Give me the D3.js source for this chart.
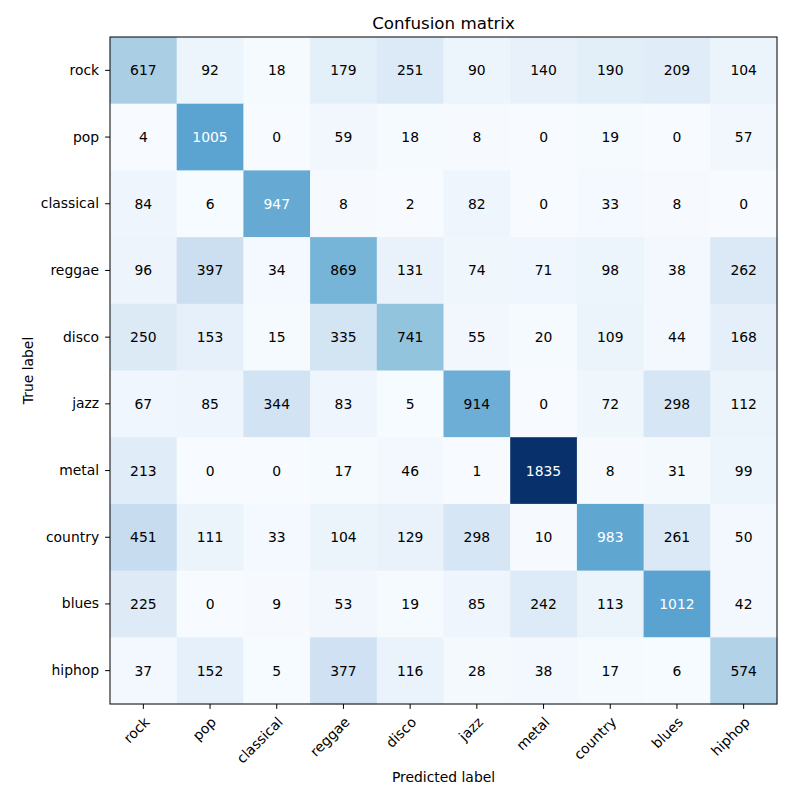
<!DOCTYPE html>
<html><head><meta charset="utf-8">
<script src="https://cdn.jsdelivr.net/npm/d3@7"></script>
<style>body{margin:0;background:#fff}svg{font-family:"DejaVu Sans",sans-serif}</style>
</head><body>
<script>
const classes = ["rock","pop","classical","reggae","disco","jazz","metal","country","blues","hiphop"];
const matrix = [
  [617, 92, 18, 179, 251, 90, 140, 190, 209, 104],
  [4, 1005, 0, 59, 18, 8, 0, 19, 0, 57],
  [84, 6, 947, 8, 2, 82, 0, 33, 8, 0],
  [96, 397, 34, 869, 131, 74, 71, 98, 38, 262],
  [250, 153, 15, 335, 741, 55, 20, 109, 44, 168],
  [67, 85, 344, 83, 5, 914, 0, 72, 298, 112],
  [213, 0, 0, 17, 46, 1, 1835, 8, 31, 99],
  [451, 111, 33, 104, 129, 298, 10, 983, 261, 50],
  [225, 0, 9, 53, 19, 85, 242, 113, 1012, 42],
  [37, 152, 5, 377, 116, 28, 38, 17, 6, 574]
];
const blues = ["#f7fbff","#deebf7","#c6dbef","#9ecae1","#6baed6","#4292c6","#2171b5","#08519c","#08306b"];

const W = 800, H = 800;
const mLeft = 110, mTop = 37, size = 667;
const svg = d3.select("body").append("svg").attr("width", W).attr("height", H);

const x = d3.scaleBand().domain(classes).range([mLeft, mLeft + size]);
const y = d3.scaleBand().domain(classes).range([mTop, mTop + size]);
const vmax = d3.max(matrix.flat()), vmin = d3.min(matrix.flat());
const color = d3.scaleLinear()
  .domain(blues.map((_, i) => vmin + (vmax - vmin) * i / (blues.length - 1)))
  .range(blues).interpolate(d3.interpolateRgb);
const thresh = vmax / 2;

const cells = [];
matrix.forEach((row, i) => row.forEach((v, j) => cells.push({r: classes[i], c: classes[j], v})));

svg.append("g").selectAll("rect").data(cells).join("rect")
  .attr("x", d => x(d.c)).attr("y", d => y(d.r))
  .attr("width", x.bandwidth() + 0.5).attr("height", y.bandwidth() + 0.5)
  .attr("fill", d => color(d.v));

svg.append("g").selectAll("text").data(cells).join("text")
  .attr("x", d => x(d.c) + x.bandwidth() / 2)
  .attr("y", d => y(d.r) + y.bandwidth() / 2)
  .attr("text-anchor", "middle").attr("dominant-baseline", "central")
  .attr("font-size", "13.9px")
  .attr("fill", d => d.v > thresh ? "#fff" : "#000")
  .text(d => d.v);

// frame
svg.append("rect").attr("x", mLeft).attr("y", mTop).attr("width", size).attr("height", size)
  .attr("fill", "none").attr("stroke", "#000").attr("stroke-width", 1);

// axes
const yAxis = d3.axisLeft(y).tickSize(4.9).tickPadding(6);
const gy = svg.append("g").attr("transform", `translate(${mLeft},0)`).call(yAxis);
gy.select(".domain").remove();
gy.selectAll("text").attr("font-size", "13.9px").attr("font-family", "DejaVu Sans").attr("fill", "#000");
gy.selectAll("line").attr("stroke", "#000");

const xAxis = d3.axisBottom(x).tickSize(4.9).tickPadding(4.9);
const gx = svg.append("g").attr("transform", `translate(0,${mTop + size})`).call(xAxis);
gx.select(".domain").remove();
gx.selectAll("line").attr("stroke", "#000");
gx.selectAll("text")
  .attr("font-size", "13.9px").attr("font-family", "DejaVu Sans").attr("fill", "#000")
  .attr("text-anchor", "end").attr("dy", null).attr("y", null)
  .attr("transform", "translate(7,19) rotate(-45)");

svg.append("text").attr("x", mLeft + size / 2).attr("y", 23)
  .attr("text-anchor", "middle").attr("dominant-baseline", "central")
  .attr("font-size", "16.7px").text("Confusion matrix");
svg.append("text").attr("x", mLeft + size / 2).attr("y", 777)
  .attr("text-anchor", "middle").attr("dominant-baseline", "central")
  .attr("font-size", "13.9px").text("Predicted label");
svg.append("text").attr("transform", `translate(28,${mTop + size / 2}) rotate(-90)`)
  .attr("text-anchor", "middle").attr("dominant-baseline", "central")
  .attr("font-size", "13.9px").text("True label");
</script>
</body></html>
